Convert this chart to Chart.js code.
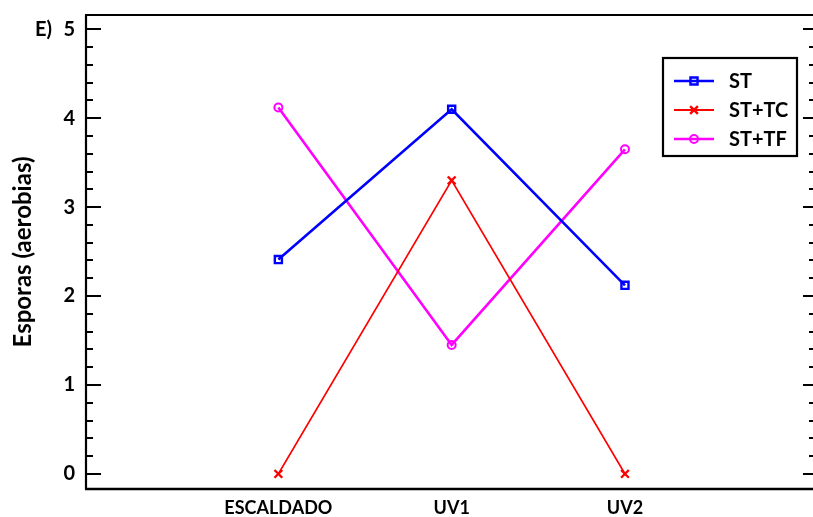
<!DOCTYPE html>
<html>
<head>
<meta charset="utf-8">
<script src="https://cdn.jsdelivr.net/npm/chart.js@4/dist/chart.umd.min.js"></script>
<style>
  html, body { margin: 0; padding: 0; background: #fff; }
  #wrap { width: 813px; height: 517px; position: relative; }
</style>
</head>
<body>
<div id="wrap"><canvas id="c" width="813" height="517"></canvas></div>
<script>
// Treatments along the x axis and their positions
const categories = ['ESCALDADO', 'UV1', 'UV2'];
const catPositions = [1, 2, 3];

// Spore counts (aerobic) per treatment
const seriesNames = ['ST', 'ST+TC', 'ST+TF'];
const stValues = [2.41, 4.10, 2.12];
const stTcValues = [0.0, 3.30, 0.0];
const stTfValues = [4.12, 1.45, 3.65];

// Y tick labels
const yTickValues = [0, 1, 2, 3, 4, 5];

const FONT = 'Lato, "Open Sans", sans-serif';

function pts(values) {
  return values.map((v, i) => ({ x: catPositions[i], y: v }));
}

const styles = [
  { color: '#0000FF', pointStyle: 'rect', width: 2.6, radius: 5, pbw: 2.4 },
  { color: '#FF0000', pointStyle: 'crossRot', width: 1.8, radius: 5.5, pbw: 2.4 },
  { color: '#FF00FF', pointStyle: 'circle', width: 2.6, radius: 4, pbw: 2 }
];
const allValues = [stValues, stTcValues, stTfValues];

const datasets = allValues.map((vals, i) => ({
  label: seriesNames[i],
  data: pts(vals),
  borderColor: styles[i].color,
  backgroundColor: 'rgba(0,0,0,0)',
  borderWidth: styles[i].width,
  pointStyle: styles[i].pointStyle,
  pointRadius: styles[i].radius,
  pointBorderWidth: styles[i].pbw,
  pointBorderColor: styles[i].color,
  pointBackgroundColor: 'rgba(255,255,255,0)',
  tension: 0,
  fill: false
}));

// Frame, inward tick marks, panel label and legend box
const framePlugin = {
  id: 'frame',
  afterDraw(chart) {
    const ctx = chart.ctx;
    const a = chart.chartArea;
    const ys = chart.scales.y;
    ctx.save();
    ctx.strokeStyle = '#000';
    ctx.lineCap = 'butt';

    // left axis, top and bottom borders
    ctx.lineWidth = 2.2;
    ctx.beginPath();
    ctx.moveTo(a.left, a.top);
    ctx.lineTo(a.left, a.bottom);
    ctx.stroke();
    ctx.beginPath();
    ctx.moveTo(a.left - 1, a.top);
    ctx.lineTo(a.right, a.top);
    ctx.stroke();
    ctx.lineWidth = 2.6;
    ctx.beginPath();
    ctx.moveTo(a.left - 1, a.bottom);
    ctx.lineTo(a.right, a.bottom);
    ctx.stroke();

    // major and minor ticks on the left and right sides
    ctx.lineWidth = 2;
    for (let k = 0; k <= 25; k++) {
      const v = k / 5;
      const y = Math.round(ys.getPixelForValue(v));
      const major = k % 5 === 0;
      ctx.beginPath();
      ctx.moveTo(a.left, y);
      ctx.lineTo(a.left + (major ? 15 : 7), y);
      ctx.stroke();
      ctx.beginPath();
      ctx.moveTo(a.right - (major ? 10 : 4), y);
      ctx.lineTo(a.right, y);
      ctx.stroke();
    }

    // panel label
    ctx.fillStyle = '#000';
    ctx.font = 'bold 20px ' + FONT;
    ctx.textAlign = 'left';
    ctx.textBaseline = 'middle';
    ctx.fillText('E)', 35, ys.getPixelForValue(5));

    // legend
    const bx = 663, by = 58, bw = 134, bh = 98;
    ctx.lineWidth = 2.2;
    ctx.strokeStyle = '#000';
    ctx.fillStyle = '#fff';
    ctx.fillRect(bx, by, bw, bh);
    ctx.strokeRect(bx, by, bw, bh);
    const rows = [81, 110, 139];
    chart.data.datasets.forEach((ds, i) => {
      const y = rows[i];
      ctx.strokeStyle = ds.borderColor;
      ctx.lineWidth = ds.borderWidth;
      ctx.beginPath();
      ctx.moveTo(674, y);
      ctx.lineTo(714, y);
      ctx.stroke();
      ctx.fillStyle = 'rgba(255,255,255,0)';
      ctx.strokeStyle = ds.borderColor;
      ctx.lineWidth = ds.pointBorderWidth;
      Chart.helpers.drawPoint(ctx, {
        pointStyle: ds.pointStyle,
        radius: ds.pointRadius,
        borderWidth: ds.pointBorderWidth
      }, 694, y);
      ctx.fillStyle = '#000';
      ctx.font = 'bold 20px ' + FONT;
      ctx.textAlign = 'left';
      ctx.textBaseline = 'middle';
      ctx.fillText(ds.label, 729, y + 1);
    });
    ctx.restore();
  }
};

function noScalePadding(scale) {
  scale.paddingTop = 0;
  scale.paddingBottom = 0;
  scale.paddingLeft = 0;
  scale.paddingRight = 0;
}

new Chart(document.getElementById('c'), {
  type: 'line',
  data: { datasets },
  plugins: [framePlugin],
  options: {
    responsive: false,
    animation: false,
    layout: { autoPadding: false, padding: { left: 0, right: 0, top: 15, bottom: 0 } },
    plugins: {
      legend: { display: false },
      tooltip: { enabled: false }
    },
    scales: {
      x: {
        type: 'linear',
        min: -0.11,
        max: 4.085,
        grid: { display: false, drawTicks: false },
        border: { display: false },
        afterBuildTicks(scale) {
          scale.ticks = catPositions.map(v => ({ value: v }));
        },
        afterFit(scale) { scale.height = 28; noScalePadding(scale); },
        ticks: {
          padding: 8,
          color: '#000',
          font: { family: FONT, size: 18, weight: 'bold' },
          maxRotation: 0,
          autoSkip: false,
          callback(value) {
            const i = catPositions.indexOf(value);
            return i >= 0 ? categories[i] : '';
          }
        }
      },
      y: {
        type: 'linear',
        min: -0.17,
        max: 5.16,
        grid: { display: false, drawTicks: false },
        border: { display: false },
        afterBuildTicks(scale) {
          scale.ticks = yTickValues.map(v => ({ value: v }));
        },
        afterFit(scale) { scale.width = 86; noScalePadding(scale); },
        title: {
          display: true,
          text: 'Esporas (aerobias)',
          color: '#000',
          font: { family: FONT, size: 24, weight: 'bold' },
          padding: { top: 9, bottom: 0 }
        },
        ticks: {
          padding: 11,
          color: '#000',
          font: { family: FONT, size: 20, weight: 'bold' }
        }
      }
    }
  }
});
</script>
</body>
</html>
